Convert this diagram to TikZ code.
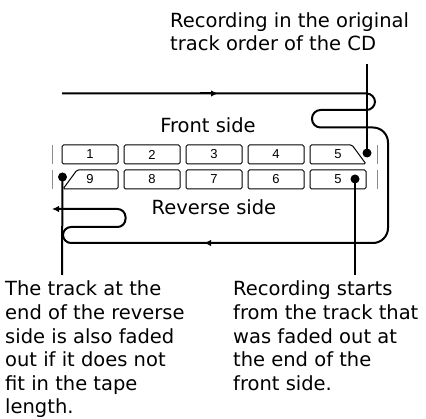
\documentclass[tikz,border=0pt]{standalone}
\usepackage{fontspec}
\setmainfont{DejaVu Sans}
\newfontfamily\numfont{Liberation Sans}
\usetikzlibrary{arrows.meta}
\begin{document}
\begin{tikzpicture}[x=1pt,y=-1pt,
  flow/.style={line width=2pt},
  trackbox/.style={draw, line width=1pt, rounded corners=1.5pt},
  tickmark/.style={draw=black!45, line width=1pt},
  leader/.style={line width=2pt},
  dotmark/.style={circle, fill=black, inner sep=0pt, minimum size=9pt},
  lbl/.style={font=\fontsize{19.5}{23.6}\selectfont, align=left, inner sep=0pt},
  side/.style={font=\fontsize{19.5}{24}\selectfont, inner sep=0pt},
  num/.style={font=\numfont\fontsize{13}{14}\selectfont, inner sep=0pt},
  tip/.style={-{Latex[length=7pt,width=6.5pt]}}
]
\useasboundingbox (0,0) rectangle (426,419);

% texts (base anchor = baseline of the last line)
\node[lbl, anchor=base west] (toplbl) at (170,51) {Recording in the original\\track order of the CD};
\node[lbl, anchor=base west] (leftlbl) at (5,414) {The track at the\\end of the reverse\\side is also faded\\out if it does not\\fit in the tape\\length.};
\node[lbl, anchor=base west] (rightlbl) at (233,390.4) {Recording starts\\from the track that\\was faded out at\\the end of the\\front side.};
\node[side] (front) at (208,125) {Front side};
\node[side] (reverse) at (214,207) {Reverse side};

% tick marks
\draw[tickmark] (52,145) -- (52,164);
\draw[tickmark] (52,170) -- (52,189);
\draw[tickmark] (377,145) -- (377,164);
\draw[tickmark] (377,170) -- (377,189);

% track boxes, front side
\node[trackbox, num, minimum width=56pt, minimum height=19pt] (f1) at (90,154.5) {1};
\node[trackbox, num, minimum width=56pt, minimum height=19pt] (f2) at (152,154.5) {2};
\node[trackbox, num, minimum width=56pt, minimum height=19pt] (f3) at (214,154.5) {3};
\node[trackbox, num, minimum width=56pt, minimum height=19pt] (f4) at (276,154.5) {4};
\draw[trackbox] (352,145) -- (366,164) -- (310,164) -- (310,145) -- cycle;
\node[num] (f5) at (338,154.5) {5};

% track boxes, reverse side
\draw[trackbox] (77,170) -- (118,170) -- (118,189) -- (63,189) -- cycle;
\node[num] (r9) at (90,179.5) {9};
\node[trackbox, num, minimum width=56pt, minimum height=19pt] (r8) at (152,179.5) {8};
\node[trackbox, num, minimum width=56pt, minimum height=19pt] (r7) at (214,179.5) {7};
\node[trackbox, num, minimum width=56pt, minimum height=19pt] (r6) at (276,179.5) {6};
\node[trackbox, num, minimum width=56pt, minimum height=19pt] (r5) at (338,179.5) {5};

% tape flow
\coordinate (start) at (62,93.5);
\coordinate (finish) at (52,209);
\draw[flow] (start) [rounded corners=8.5pt] -- (375,93.5) -- (375,110) -- (312,110) -- (312,127.5)
  [rounded corners=15pt] -- (388,127.5) -- (388,243)
  [rounded corners=8pt] -- (63,243) -- (63,227) -- (125.5,227) -- (125.5,209)
  [sharp corners, tip] -- (finish);
\draw[flow, tip] (200,93.5) -- (218,93.5);
\draw[flow, tip] (222,243) -- (204,243);

% leaders and dots
\coordinate (topend) at (367,64);
\coordinate (leftend) at (62,275);
\coordinate (rightend) at (355,275);
\node[dotmark] (dtop) at (367,153) {};
\node[dotmark] (dleft) at (62.5,177) {};
\node[dotmark] (dright) at (355,179) {};
\draw[leader] (topend) -- (dtop.center);
\draw[leader] (dleft.center) -- (leftend);
\draw[leader] (dright.center) -- (rightend);
\end{tikzpicture}
\end{document}
